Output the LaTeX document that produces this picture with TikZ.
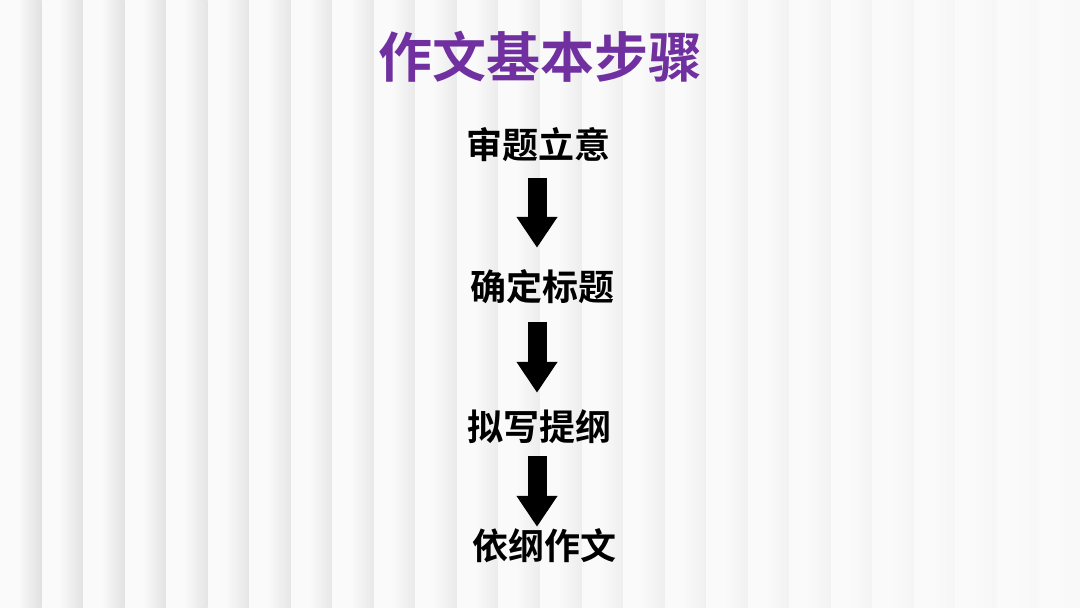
\documentclass[tikz,border=0pt]{standalone}
\usepackage{fontspec}
\newfontfamily\cjk{Noto Sans CJK SC}[BoldFont={* Bold}]
\usetikzlibrary{arrows.meta}
\definecolor{titlepurple}{RGB}{112,48,160}

\tikzset{
  steptext/.style={font=\cjk\bfseries\fontsize{36}{40}\selectfont, inner sep=0pt,
    text height=31.7pt, text depth=4.3pt},
  flow/.style={line width=19pt, -{Triangle[width=39pt,length=31pt]}}
}

\begin{document}
\begin{tikzpicture}[x=1pt,y=-1pt]
            \useasboundingbox (0,0) rectangle (1080,608);
            \fill[white] (0,0) rectangle (1080,608);
            
            \foreach \i in {0,...,25}{
                \pgfmathsetmacro\g{12-9.5*\i/25}
                \fill[black!2] (\i*41.54,0) rectangle ++(18,608);
                \shade[left color=black!2, right color=black!\g] (\i*41.54+18,0) rectangle ++(23.54,608);
            }
            
            \node[font=\cjk\bfseries\fontsize{54}{60}\selectfont, text=titlepurple] (title) at (540,57) {作文基本步骤};
            
            \node[steptext] (s1) at (538,145) {审题立意};
            \node[steptext] (s2) at (542,287) {确定标题};
            \node[steptext] (s3) at (539,427) {拟写提纲};
            \node[steptext] (s4) at (544,546) {依纲作文};
            
            \coordinate (axis) at (537,0);
            \draw[flow, shorten <=15pt, shorten >=21pt] (s1.south -| axis) -- (s2.north -| axis);
            \draw[flow, shorten <=17pt, shorten >=16pt] (s2.south -| axis) -- (s3.north -| axis);
            \draw[flow, shorten <=11pt, shorten >=1pt] (s3.south -| axis) -- (s4.north -| axis);
    \end{tikzpicture}
\end{document}
